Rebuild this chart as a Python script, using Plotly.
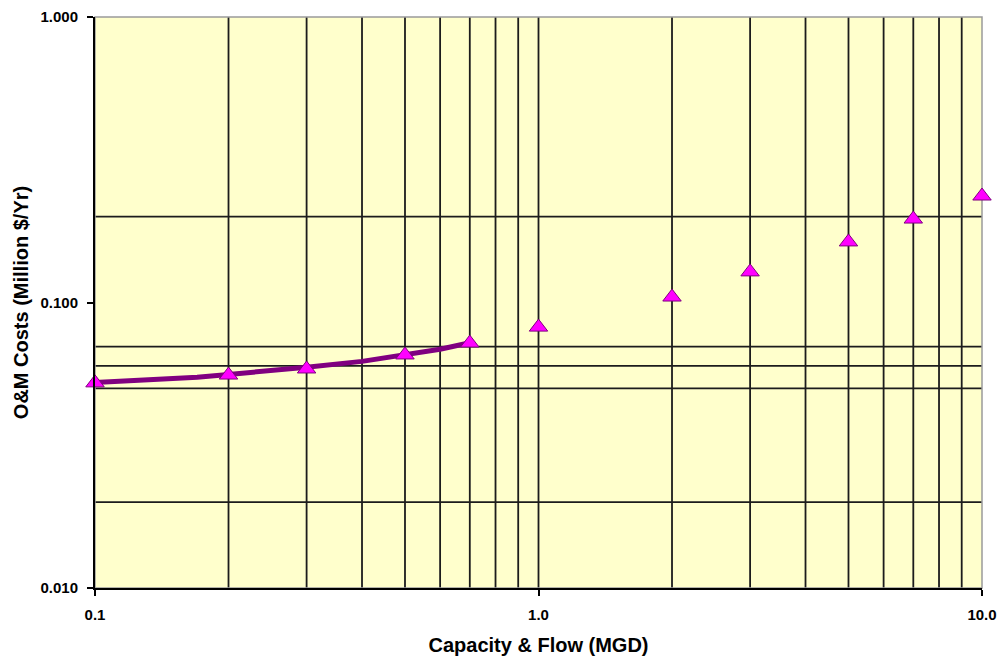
import plotly.graph_objects as go

# Data
point_x = [0.1, 0.2, 0.3, 0.5, 0.7, 1.0, 2.0, 3.0, 5.0, 7.0, 10.0]
point_y = [0.0523, 0.0557, 0.0585, 0.0655, 0.0721, 0.082, 0.1045, 0.128, 0.163, 0.196, 0.236]

line_x = [0.1, 0.12, 0.17, 0.2, 0.25, 0.3, 0.4, 0.5, 0.6, 0.7]
line_y = [0.0525, 0.0531, 0.0547, 0.0560, 0.0577, 0.0593, 0.0622, 0.0655, 0.0686, 0.0723]

x_grid = [0.2, 0.3, 0.4, 0.5, 0.6, 0.7, 0.8, 0.9, 1.0, 2, 3, 4, 5, 6, 7, 8, 9]
y_grid = [0.02, 0.05, 0.06, 0.07, 0.2]

x_ticks = [0.1, 1.0, 10.0]
x_ticktext = ["0.1", "1.0", "10.0"]
y_ticks = [0.01, 0.1, 1.0]
y_ticktext = ["0.010", "0.100", "1.000"]

FONT = "Arial, Liberation Sans, sans-serif"

fig = go.Figure()
fig.add_trace(go.Scatter(
    x=line_x, y=line_y, mode="lines",
    line=dict(color="#800080", width=5),
    showlegend=False, hoverinfo="skip"))
fig.add_trace(go.Scatter(
    x=point_x, y=point_y, mode="markers",
    marker=dict(symbol="triangle-up", size=16, color="#FF00FF",
                line=dict(color="#800080", width=1)),
    cliponaxis=False, showlegend=False))

shapes = []
for gx in x_grid:
    shapes.append(dict(type="line", xref="x", yref="paper", x0=gx, x1=gx, y0=0, y1=1,
                       line=dict(color="#1c1c1c", width=1.8), layer="below"))
for gy in y_grid:
    shapes.append(dict(type="line", xref="paper", yref="y", x0=0, x1=1, y0=gy, y1=gy,
                       line=dict(color="#1c1c1c", width=1.8), layer="below"))
shapes.append(dict(type="rect", xref="paper", yref="paper", x0=0, x1=1, y0=0, y1=1,
                   line=dict(color="#9a9a9a", width=1.5), layer="below"))

fig.update_layout(
    width=1003, height=656,
    margin=dict(l=95, r=21, t=17, b=68),
    paper_bgcolor="white", plot_bgcolor="#FFFFCC",
    font=dict(family=FONT, size=15, color="black"),
    shapes=shapes,
    xaxis=dict(
        type="log", range=[-1, 1], automargin=False,
        tickvals=x_ticks, ticktext=x_ticktext,
        tickfont=dict(family=FONT, size=15, color="black", weight="bold"),
        ticks="outside", ticklen=6, tickcolor="black", tickwidth=1.5,
        ticklabelstandoff=6,
        showline=True, linecolor="black", linewidth=2,
        showgrid=False, zeroline=False,
        title=dict(text="<b>Capacity & Flow (MGD)</b>", font=dict(family=FONT, size=20),
                   standoff=18),
    ),
    yaxis=dict(
        type="log", range=[-2, 0], automargin=False,
        tickvals=y_ticks, ticktext=y_ticktext,
        tickfont=dict(family=FONT, size=15, color="black", weight="bold"),
        ticks="outside", ticklen=6, tickcolor="black", tickwidth=1.5,
        ticklabelstandoff=6,
        showline=True, linecolor="black", linewidth=2,
        showgrid=False, zeroline=False,
        title=dict(text="<b>O&M Costs (Million $/Yr)</b>", font=dict(family=FONT, size=20),
                   standoff=6),
    ),
)

fig.write_html("out.html")
